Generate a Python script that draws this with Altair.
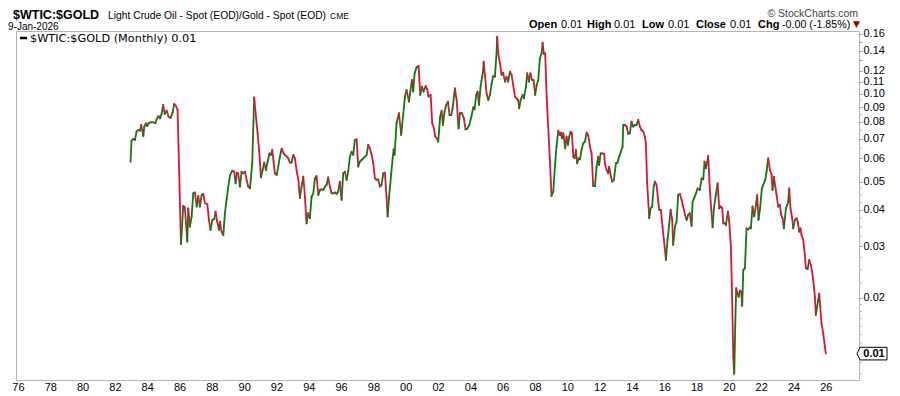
import altair as alt
import pandas as pd

# ---- data (decimal year, ratio) ----
T = [
1982.97,1983.03,1983.14,1983.24,1983.34,1983.45,1983.55,1983.63,1983.76,1983.82,1983.92,
1984.00,1984.09,1984.21,1984.37,1984.50,1984.58,1984.70,1984.79,1984.89,1984.99,
1985.08,1985.20,1985.32,1985.45,1985.57,1985.67,1985.78,1985.88,1985.98,
1986.09,1986.23,1986.33,1986.48,1986.54,1986.64,1986.75,1986.85,1986.95,
1987.06,1987.16,1987.26,1987.37,1987.47,1987.57,1987.72,1987.82,1987.92,
1988.03,1988.15,1988.23,1988.33,1988.44,1988.50,1988.60,1988.71,1988.81,1988.91,
1989.02,1989.12,1989.26,1989.39,1989.47,1989.55,1989.63,1989.74,1989.84,1989.94,
1990.05,1990.15,1990.25,1990.36,1990.50,1990.62,1990.73,1990.83,1990.93,
1991.04,1991.14,1991.24,1991.35,1991.45,1991.57,1991.66,1991.74,1991.82,1991.90,
1992.01,1992.11,1992.21,1992.32,1992.44,1992.52,1992.65,1992.73,1992.83,1992.93,
1993.04,1993.14,1993.24,1993.35,1993.45,1993.55,1993.66,1993.76,1993.86,1993.97,
1994.07,1994.17,1994.28,1994.38,1994.48,1994.59,1994.69,1994.79,1994.89,
1995.00,1995.10,1995.20,1995.31,1995.41,1995.51,1995.62,1995.72,1995.82,1995.92,
1996.03,1996.13,1996.24,1996.34,1996.44,1996.54,1996.65,1996.75,1996.85,1996.96,
1997.06,1997.16,1997.27,1997.37,1997.47,1997.58,1997.68,1997.78,1997.89,1997.99,
1998.09,1998.19,1998.30,1998.40,1998.50,1998.61,1998.71,1998.81,1998.88,1998.96,
1999.19,1999.25,1999.31,1999.43,1999.58,1999.72,1999.95,
2000.05,2000.20,2000.38,2000.46,2000.55,2000.67,2000.79,2000.90,
2001.00,2001.10,2001.23,2001.33,2001.41,2001.54,2001.64,2001.74,2001.83,2001.93,
2002.01,2002.13,2002.22,2002.30,2002.40,2002.51,2002.61,2002.71,2002.82,2002.90,
2003.04,2003.15,2003.27,2003.35,2003.48,2003.60,2003.70,2003.81,2003.93,
2004.07,2004.18,2004.26,2004.36,2004.45,2004.53,2004.63,2004.69,2004.78,2004.82,2004.90,
2005.00,2005.11,2005.21,2005.31,2005.41,2005.52,2005.62,2005.66,2005.72,2005.83,2005.93,
2006.03,2006.14,2006.24,2006.34,2006.45,2006.55,2006.65,2006.76,2006.86,2006.96,
2007.02,2007.11,2007.23,2007.31,2007.44,2007.52,2007.62,2007.72,2007.81,2007.91,
2008.01,2008.10,2008.20,2008.30,2008.41,2008.47,2008.55,2008.63,2008.72,2008.84,2008.92,
2009.02,2009.13,2009.23,2009.33,2009.44,2009.54,2009.60,2009.66,2009.75,2009.81,2009.87,2009.95,
2010.04,2010.12,2010.20,2010.28,2010.37,2010.45,2010.53,2010.61,2010.70,2010.78,2010.88,2010.98,
2011.09,2011.19,2011.29,2011.40,2011.50,2011.60,2011.71,2011.81,2011.91,2011.97,
2012.06,2012.18,2012.28,2012.32,2012.43,2012.53,2012.59,2012.70,2012.78,2012.88,
2013.01,2013.11,2013.21,2013.31,2013.42,2013.46,2013.56,2013.67,2013.77,2013.87,2013.97,
2014.08,2014.18,2014.28,2014.39,2014.49,2014.59,2014.70,2014.80,2014.86,2014.94,
2015.07,2015.15,2015.25,2015.34,2015.42,2015.52,2015.63,2015.69,2015.79,2015.89,2016.00,
2016.10,2016.20,2016.31,2016.39,2016.49,2016.55,2016.66,2016.76,2016.86,2016.97,
2017.07,2017.17,2017.28,2017.38,2017.48,2017.58,2017.69,2017.75,2017.85,2017.96,
2018.06,2018.20,2018.31,2018.41,2018.49,2018.57,2018.66,2018.72,2018.82,2018.99,
2019.07,2019.19,2019.30,2019.40,2019.50,2019.59,2019.65,2019.75,2019.81,2019.94,
2020.02,2020.12,2020.18,2020.27,2020.33,2020.39,2020.45,2020.53,2020.60,2020.68,2020.76,2020.82,2020.89,2020.99,
2021.09,2021.19,2021.30,2021.36,2021.46,2021.57,2021.67,2021.75,2021.83,2021.92,
2022.04,2022.12,2022.25,2022.33,2022.43,2022.54,2022.64,2022.70,2022.78,2022.87,2022.95,
2023.05,2023.15,2023.24,2023.32,2023.40,2023.53,2023.61,2023.67,2023.73,2023.81,2023.90,2023.98,
2024.08,2024.19,2024.27,2024.35,2024.43,2024.49,2024.60,2024.70,2024.76,2024.87,2024.97,
2025.07,2025.15,2025.22,2025.32,2025.38,2025.46,2025.53,2025.59,2025.65,2025.73,2025.84,2025.94,
2026.00,
]

V = [
0.0585,0.0691,0.0700,0.0694,0.0741,0.0751,0.0747,0.0781,0.0716,0.0771,0.0792,
0.0775,0.0792,0.0798,0.0798,0.0792,0.0817,0.0839,0.0823,0.0852,0.0915,
0.0852,0.0875,0.0834,0.0826,0.0861,0.0922,0.0907,0.0879,0.0534,
0.0306,0.0413,0.0408,0.0312,0.0405,0.0351,0.0380,0.0456,0.0459,
0.0411,0.0447,0.0411,0.0450,0.0454,0.0422,0.0419,0.0370,0.0342,
0.0370,0.0372,0.0395,0.0365,0.0342,0.0365,0.0337,0.0328,0.0390,0.0433,
0.0481,0.0523,0.0545,0.0541,0.0493,0.0537,0.0534,0.0481,0.0541,0.0534,
0.0541,0.0507,0.0481,0.0474,0.0578,0.0971,0.0834,0.0732,0.0633,
0.0517,0.0548,0.0581,0.0548,0.0585,0.0625,0.0617,0.0642,0.0585,0.0534,
0.0527,0.0563,0.0609,0.0648,0.0625,0.0617,0.0609,0.0601,0.0581,0.0581,
0.0617,0.0601,0.0548,0.0509,0.0439,0.0481,0.0520,0.0444,0.0360,0.0390,
0.0375,0.0444,0.0456,0.0513,0.0523,0.0450,0.0468,0.0471,0.0468,
0.0481,0.0487,0.0517,0.0481,0.0456,0.0456,0.0459,0.0454,0.0462,0.0500,
0.0433,0.0534,0.0541,0.0507,0.0541,0.0609,0.0633,0.0617,0.0694,0.0698,
0.0563,0.0585,0.0593,0.0601,0.0609,0.0617,0.0668,0.0650,0.0617,0.0578,
0.0513,0.0507,0.0509,0.0481,0.0487,0.0534,0.0537,0.0444,0.0380,0.0439,
0.0601,0.0645,0.0617,0.0792,0.0857,0.0722,0.0977,
0.1029,0.0939,0.1114,0.1016,0.1174,0.1230,0.1243,0.0990,
0.1057,0.1016,0.1062,0.1035,0.0977,0.0990,0.0792,0.0761,0.0713,0.0703,
0.0685,0.0834,0.0875,0.0781,0.0868,0.0915,0.0939,0.0845,0.0845,0.0891,
0.1043,0.0951,0.0761,0.0857,0.0857,0.0823,0.0755,0.0759,0.0781,
0.0839,0.0898,0.0884,0.0990,0.1016,0.0915,0.1057,0.1108,0.1189,0.1287,0.1159,
0.1003,0.0951,0.0990,0.1079,0.1149,0.1143,0.1381,0.1567,0.1374,0.1270,0.1159,
0.1180,0.1099,0.1143,0.1099,0.1189,0.1159,0.1070,0.0977,0.0964,0.0951,
0.0891,0.0951,0.0990,0.0964,0.1057,0.1174,0.1099,0.1174,0.1114,0.1114,
0.0990,0.1070,0.1114,0.1321,0.1374,0.1495,0.1367,0.1374,0.0977,0.0722,0.0593,
0.0447,0.0462,0.0563,0.0659,0.0747,0.0722,0.0736,0.0703,0.0732,0.0694,0.0650,0.0713,
0.0668,0.0713,0.0741,0.0732,0.0609,0.0601,0.0642,0.0578,0.0601,0.0596,0.0642,0.0676,
0.0685,0.0736,0.0722,0.0659,0.0625,0.0483,0.0483,0.0563,0.0609,0.0570,
0.0625,0.0625,0.0622,0.0578,0.0548,0.0534,0.0563,0.0520,0.0500,0.0507,
0.0578,0.0581,0.0609,0.0633,0.0659,0.0781,0.0781,0.0771,0.0728,0.0732,0.0802,
0.0771,0.0781,0.0781,0.0813,0.0771,0.0751,0.0741,0.0713,0.0676,0.0493,
0.0375,0.0405,0.0411,0.0481,0.0500,0.0487,0.0427,0.0400,0.0400,0.0351,0.0308,
0.0270,0.0316,0.0360,0.0400,0.0370,0.0304,0.0351,0.0365,0.0450,0.0454,
0.0433,0.0411,0.0385,0.0370,0.0385,0.0390,0.0353,0.0427,0.0439,0.0456,
0.0474,0.0468,0.0513,0.0509,0.0585,0.0555,0.0585,0.0612,0.0468,0.0349,
0.0405,0.0450,0.0493,0.0405,0.0411,0.0405,0.0360,0.0360,0.0355,0.0395,
0.0365,0.0300,0.0224,0.0126,0.0110,0.0160,0.0216,0.0207,0.0202,0.0212,0.0210,0.0188,0.0249,0.0253,
0.0346,0.0343,0.0349,0.0346,0.0411,0.0380,0.0416,0.0450,0.0370,0.0402,
0.0474,0.0487,0.0507,0.0541,0.0601,0.0548,0.0527,0.0468,0.0520,0.0481,0.0450,
0.0411,0.0416,0.0385,0.0375,0.0346,0.0405,0.0416,0.0427,0.0474,0.0405,0.0380,0.0346,
0.0370,0.0375,0.0362,0.0337,0.0346,0.0328,0.0316,0.0281,0.0253,0.0251,0.0270,
0.0259,0.0246,0.0230,0.0202,0.0175,0.0187,0.0197,0.0207,0.0187,0.0164,0.0151,0.0136,
0.0129,
]

YEAR_TICKS = list(range(1976, 2027, 2))
Y_TICKS = [0.02, 0.03, 0.04, 0.05, 0.06, 0.07, 0.08, 0.09, 0.10,
           0.11, 0.12, 0.13, 0.14, 0.15, 0.16]
Y_MINOR = [0.011, 0.012, 0.013, 0.014, 0.015, 0.016, 0.017, 0.018, 0.019,
           0.0225, 0.025, 0.0275, 0.0325, 0.035, 0.0375, 0.0425, 0.045, 0.0475,
           0.055, 0.065, 0.075, 0.085, 0.095]

GREEN = "#0e7a0e"
RED = "#dc143c"
FONT = "Liberation Sans"

seg = pd.DataFrame({"t": T[:-1], "v": V[:-1], "t2": T[1:], "v2": V[1:]})
seg["dir"] = ["up" if b >= a else "down" for a, b in zip(V[:-1], V[1:])]

xscale = alt.Scale(domain=[1975.88, 2028.05], nice=False, zero=False)
yscale = alt.Scale(type="log", domain=[0.01048, 0.1638], nice=False)

lines = alt.Chart(seg).mark_rule(strokeWidth=1.8, strokeCap="round").encode(
    x=alt.X("t:Q", scale=xscale,
            axis=alt.Axis(values=YEAR_TICKS, labelExpr="slice(toString(datum.value), 2)",
                          grid=False, ticks=False, domain=False, labelFont=FONT,
                          labelFontSize=11, labelColor="#000", labelPadding=1, title=None)),
    x2="t2:Q",
    y=alt.Y("v:Q", scale=yscale,
            axis=alt.Axis(orient="right", values=Y_TICKS, format=".2f", grid=False,
                          tickSize=3, tickColor="#999", domain=False, labelPadding=1,
                          labelFont=FONT, labelFontSize=11, labelColor="#000", title=None)),
    y2="v2:Q",
    color=alt.Color("dir:N", scale=alt.Scale(domain=["up", "down"], range=[GREEN, RED]), legend=None),
)

minor = alt.Chart(pd.DataFrame({"m": Y_MINOR})).mark_rule(color="#bbb", strokeWidth=1).encode(
    y=alt.Y("m:Q", scale=yscale, axis=None),
    x=alt.value(843), x2=alt.value(846),
)

last = pd.DataFrame({"v": [V[-1]], "lab": ["0.01"]})
marker = alt.Chart(last).mark_point(
    shape="M -1 0 L -0.8 -0.42 L 1 -0.42 L 1 0.42 L -0.8 0.42 Z",
    size=900, filled=True, fill="white", stroke="black", strokeWidth=1, opacity=1,
).encode(y=alt.Y("v:Q", scale=yscale, axis=None), x=alt.value(856))
marker_txt = alt.Chart(last).mark_text(
    font=FONT, fontSize=11, fontWeight="bold", color="black", baseline="middle", align="center"
).encode(y=alt.Y("v:Q", scale=yscale, axis=None), x=alt.value(858), text="lab:N")

one = pd.DataFrame({"a": [0]})


def txt(s, x, y, size=11, weight="normal", color="#000", align="left", font=FONT):
    return alt.Chart(one).mark_text(
        text=s, font=font, fontSize=size, fontWeight=weight, color=color,
        align=align, baseline="alphabetic"
    ).encode(x=alt.value(x), y=alt.value(y))


texts = [
    txt("$WTIC:$GOLD", -3, -12.5, size=12.5, weight="bold"),
    txt("Light Crude Oil - Spot (EOD)/Gold - Spot (EOD)", 92, -12.5, size=10.3),
    txt("CME", 314, -12.5, size=8.5),
    txt("9-Jan-2026", -8, -0.8, size=10),
    txt("© StockCharts.com", 842, -14.5, size=10.5, color="#444", align="right"),
    txt("Open", 513, -3.5, size=11, weight="bold"),
    txt("0.01", 545, -3.5, size=11),
    txt("High", 571, -3.5, size=11, weight="bold"),
    txt("0.01", 598, -3.5, size=11),
    txt("Low", 626, -3.5, size=11, weight="bold"),
    txt("0.01", 652, -3.5, size=11),
    txt("Close", 680, -3.5, size=11, weight="bold"),
    txt("0.01", 714, -3.5, size=11),
    txt("Chg", 742, -3.5, size=11, weight="bold"),
    txt("-0.00 (-1.85%)", 766, -3.5, size=10.7),
    txt("▼", 837, -4.5, size=9, color="#a00000", font="DejaVu Sans"),
    txt("$WTIC:$GOLD (Monthly) 0.01", 14, 11, size=11.3, font="DejaVu Sans"),
]

dash = alt.Chart(one).mark_rule(color="black", strokeWidth=2.5).encode(
    x=alt.value(4), x2=alt.value(11), y=alt.value(7)
)

chart = alt.layer(lines, minor, marker, marker_txt, dash, *texts).resolve_axis(
    y="independent"
).properties(
    width=843, height=349,
    autosize=alt.AutoSizeParams(type="none"),
    padding={"left": 8, "top": 23, "right": 33, "bottom": 16},
    background="white",
).configure_view(stroke="#b4b4b4", strokeWidth=1)

chart.save("out.html", embed_options={"renderer": "svg", "actions": False})
